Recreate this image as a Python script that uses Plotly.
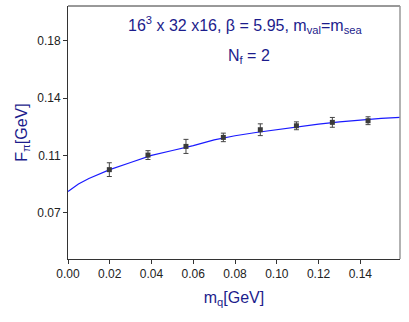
import plotly.graph_objects as go

# data points
mq = [0.0198, 0.0383, 0.0565, 0.0744, 0.0921, 0.1094, 0.1266, 0.1437]
fpi = [0.1013, 0.1102, 0.1155, 0.1210, 0.1257, 0.1281, 0.1302, 0.1312]
fpi_err = [0.0042, 0.0027, 0.0043, 0.0026, 0.0036, 0.0024, 0.0030, 0.0024]

# fit curve
fit_x = [0.0, 0.005, 0.01, 0.02, 0.03, 0.04, 0.05, 0.06, 0.07, 0.08, 0.09,
         0.10, 0.11, 0.12, 0.13, 0.14, 0.15, 0.159]
fit_y = [0.0880, 0.0926, 0.0959, 0.1013, 0.1057, 0.1100, 0.1130, 0.1160,
         0.1195, 0.1220, 0.1240, 0.1258, 0.1276, 0.1291, 0.1305, 0.1317,
         0.1326, 0.1332]

x_ticks = [0.00, 0.02, 0.04, 0.06, 0.08, 0.10, 0.12, 0.14]
x_tick_text = ["0.00", "0.02", "0.04", "0.06", "0.08", "0.10", "0.12", "0.14"]
y_ticks = [0.075, 0.11, 0.145, 0.18]
y_tick_text = ["0.07", "0.11", "0.14", "0.18"]

navy = "#1c1c8c"
font = "Liberation Sans, Arial, sans-serif"

fig = go.Figure()
fig.add_trace(go.Scatter(x=fit_x, y=fit_y, mode="lines",
                         line=dict(color="#1a1aff", width=1.2), hoverinfo="skip"))
fig.add_trace(go.Scatter(x=mq, y=fpi, mode="markers",
                         marker=dict(symbol="square", size=5, color="#3a3a3a"),
                         error_y=dict(type="data", array=fpi_err, color="#444",
                                      thickness=1, width=2.5)))

fig.update_layout(
    width=409, height=322,
    margin=dict(l=68, r=9, t=6, b=63, autoexpand=False),
    plot_bgcolor="white", paper_bgcolor="white",
    showlegend=False,
    font=dict(family=font, color="#222"),
    xaxis=dict(range=[0, 0.159], tickvals=x_ticks, ticktext=x_tick_text,
               ticks="outside", ticklen=4, tickcolor="#333", showgrid=False,
               zeroline=False, showline=True, linecolor="#333", linewidth=1,
               automargin=False,
               tickfont=dict(size=12, color="#222"),
               title=dict(text="m<sub>q</sub>[GeV]", font=dict(size=16, color=navy),
                          standoff=11)),
    yaxis=dict(range=[0.0467, 0.2013], tickvals=y_ticks, ticktext=y_tick_text,
               ticks="outside", ticklen=4, tickcolor="#333", showgrid=False,
               zeroline=False, showline=True, linecolor="#333", linewidth=1,
               automargin=False,
               tickfont=dict(size=12, color="#222"),
               title=dict(text="F<sub>π</sub>[GeV]", font=dict(size=16, color=navy),
                          standoff=5)),
    shapes=[
        dict(type="line", xref="paper", yref="paper", x0=0, x1=1, y0=1, y1=1,
             line=dict(color="#333", width=1)),
        dict(type="line", xref="paper", yref="paper", x0=1, x1=1, y0=0, y1=1,
             line=dict(color="#999", width=1.5)),
    ],
    annotations=[
        dict(xref="paper", yref="paper", x=0.533, y=0.923, xanchor="center",
             yanchor="middle", showarrow=False,
             text="16<sup>3</sup> x 32 x16, β = 5.95, m<sub>val</sub>=m<sub>sea</sub>",
             font=dict(size=16, color=navy, family=font)),
        dict(xref="paper", yref="paper", x=0.546, y=0.80, xanchor="center",
             yanchor="middle", showarrow=False,
             text="N<sub>f</sub> = 2",
             font=dict(size=16, color=navy, family=font)),
    ],
)

fig.write_html("out.html", config={"displayModeBar": False},
               post_script="document.body.style.margin='0';document.body.style.padding='0';")
